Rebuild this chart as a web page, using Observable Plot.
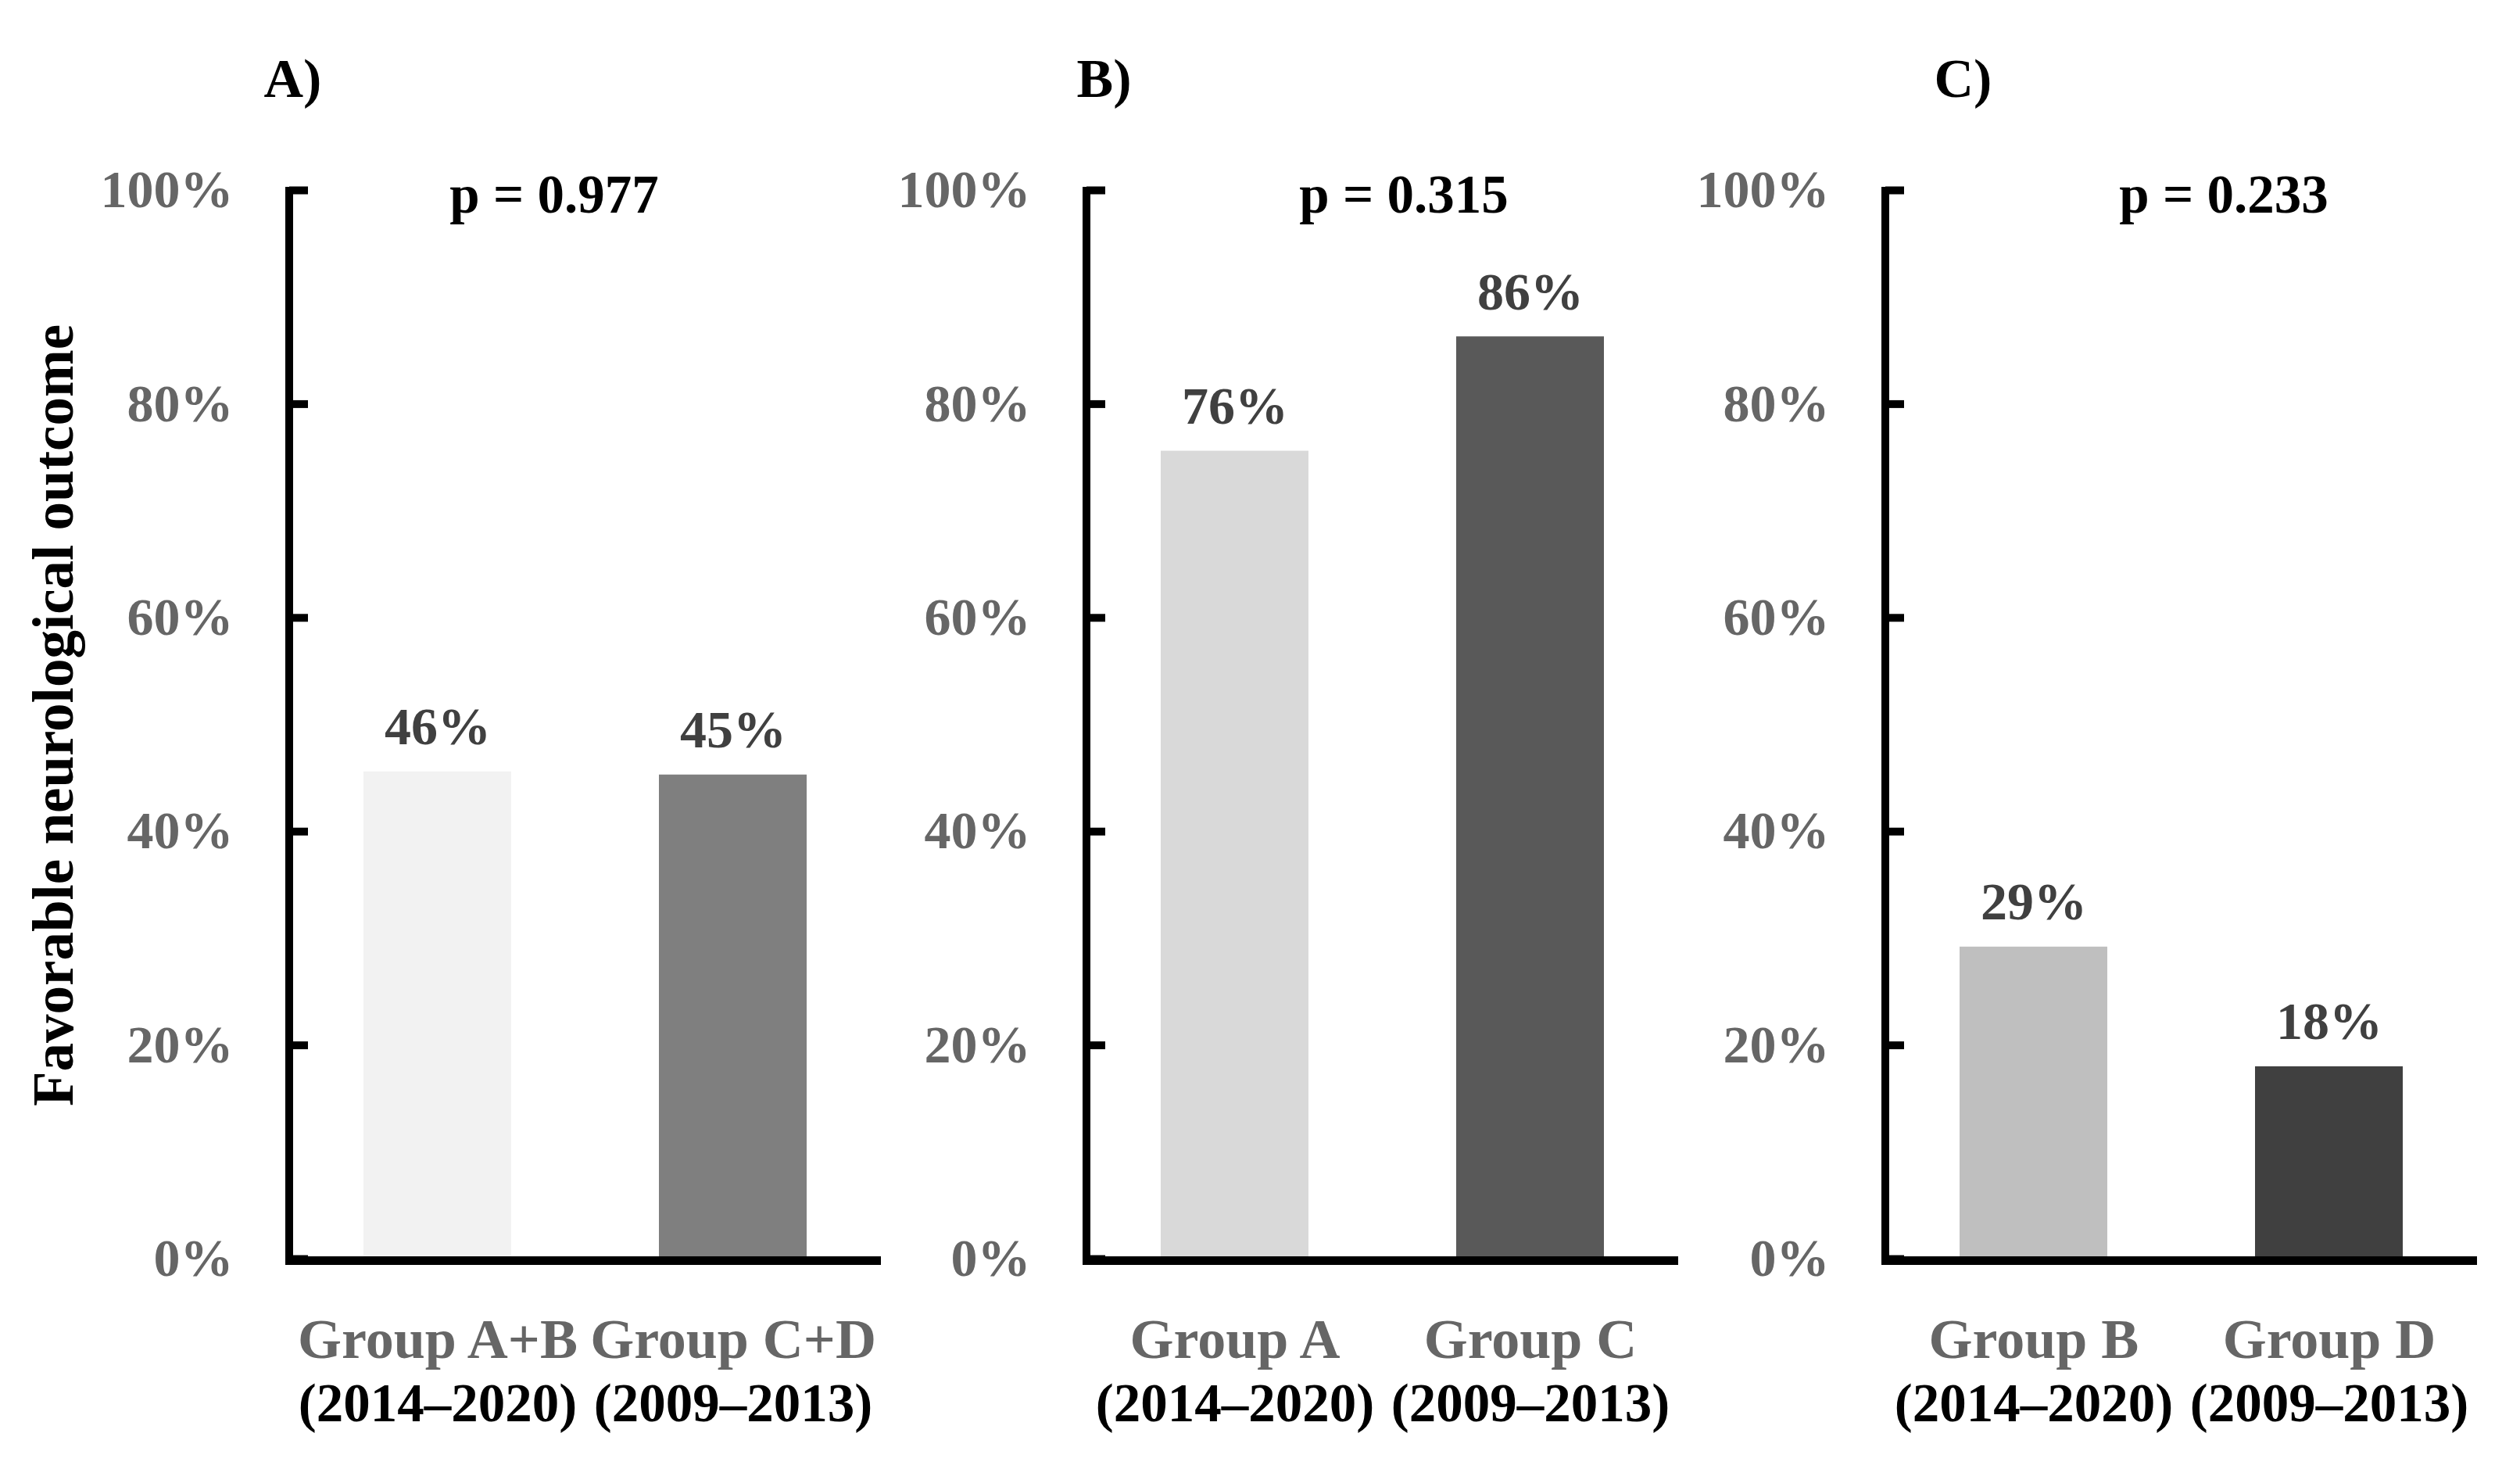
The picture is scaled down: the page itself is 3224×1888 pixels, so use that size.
<!DOCTYPE html>
<html>
<head>
<meta charset="utf-8">
<script src="https://cdn.jsdelivr.net/npm/d3@7"></script>
<script src="https://cdn.jsdelivr.net/npm/@observablehq/plot@0.6"></script>
<style>
  html, body { margin: 0; padding: 0; background: #ffffff; }
  #chart { position: relative; width: 3224px; height: 1888px; background: #ffffff; }
  #chart svg { position: absolute; top: 0; }
</style>
</head>
<body>
<div id="chart"></div>
<script>
// ---- data ----
const panelLabels = ["A)", "B)", "C)"];
const pValues = ["p = 0.977", "p = 0.315", "p = 0.233"];
const groupNames = [["Group A+B", "Group C+D"], ["Group A", "Group C"], ["Group B", "Group D"]];
const periods = ["(2014\u20132020)", "(2009\u20132013)"];
const outcomes = [[45.6, 45.3], [75.6, 86.3], [29.2, 18.0]];
const yTicks = [0, 20, 40, 60, 80, 100];
const barColors = [["#f2f2f2", "#7f7f7f"], ["#d9d9d9", "#595959"], ["#bfbfbf", "#404040"]];
const yTitle = "Favorable neurological outcome";

// ---- layout ----
const H = 1888, MT = 243, MB = 278, PW = 757;
const layout = [
  {left: 0, ml: 370, mr: 20, labelDx: -33, pDx: -40},
  {left: 1140, ml: 250, mr: 10, labelDx: -13, pDx: 27},
  {left: 2162, ml: 250, mr: 50, labelDx: 62, pDx: 54}
];
const font = "'Liberation Serif', 'Times New Roman', serif";
const chart = document.getElementById("chart");

panelLabels.forEach((label, i) => {
  const L = layout[i];
  const rows = groupNames[i].map((g, j) => ({
    group: g, period: periods[j], value: outcomes[i][j], color: barColors[i][j]
  }));
  const marks = [
    Plot.barY(rows, {x: "group", y: "value", fill: "color"}),
    // y axis line
    Plot.rect([0], {y1: 0, y2: 100, insetLeft: -5, insetRight: PW - 5, insetTop: -4, insetBottom: -8, fill: "black"}),
    // inward ticks
    Plot.ruleY(yTicks, {y: d => d, insetRight: PW - 24, stroke: "black", strokeWidth: 10}),
    // x axis line
    Plot.ruleY([0], {y: d => d, insetLeft: -5, dy: 2, stroke: "black", strokeWidth: 11}),
    // tick labels
    Plot.text(yTicks, {y: d => d, text: d => d + "%", frameAnchor: "left", textAnchor: "end", lineAnchor: "middle",
      dx: -72, fill: "#666666", fontSize: 68, fontWeight: "bold"}),
    // value labels
    Plot.text(rows, {x: "group", y: "value", text: d => Math.round(d.value) + "%", lineAnchor: "bottom",
      dy: -35, fill: "#404040", fontSize: 68, fontWeight: "bold"}),
    // group labels
    Plot.text(rows, {x: "group", text: "group", frameAnchor: "bottom", lineAnchor: "bottom",
      dy: 126, fill: "#666666", fontSize: 72, fontWeight: "bold"}),
    Plot.text(rows, {x: "group", text: "period", frameAnchor: "bottom", lineAnchor: "bottom",
      dy: 207, fill: "black", fontSize: 69, fontWeight: "bold"}),
    // p value
    Plot.text([pValues[i]], {text: d => d, frameAnchor: "top", lineAnchor: "bottom", dx: L.pDx, dy: 28,
      fill: "black", fontSize: 69, fontWeight: "bold"}),
    // panel label
    Plot.text([label], {text: d => d, frameAnchor: "top-left", textAnchor: "start", lineAnchor: "bottom",
      dx: L.labelDx, dy: -120, fill: "black", fontSize: 70, fontWeight: "bold"})
  ];
  if (i === 0) {
    marks.push(Plot.text([yTitle], {text: d => d, frameAnchor: "left", rotate: -90, textAnchor: "middle",
      lineAnchor: "bottom", dx: -278, dy: -12, fill: "black", fontSize: 73, fontWeight: "bold"}));
  }
  const svg = Plot.plot({
    width: L.ml + PW + L.mr,
    height: H,
    marginLeft: L.ml,
    marginRight: L.mr,
    marginTop: MT,
    marginBottom: MB,
    x: {domain: groupNames[i], paddingInner: 0.5, paddingOuter: 0.25, axis: null},
    y: {domain: [0, 100], axis: null},
    color: {type: "identity"},
    style: {background: "transparent", overflow: "visible", fontFamily: font},
    marks
  });
  svg.style.left = L.left + "px";
  chart.appendChild(svg);
});
</script>
</body>
</html>
